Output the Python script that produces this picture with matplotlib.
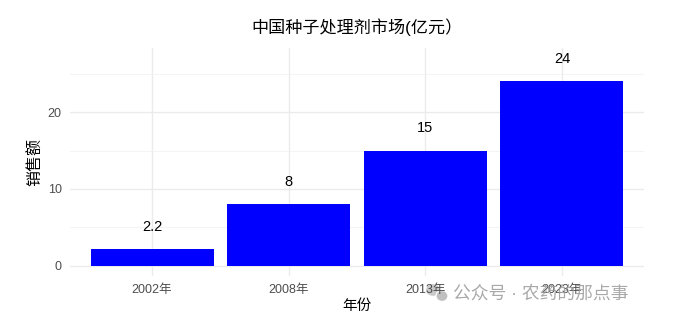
import numpy as np
import matplotlib.pyplot as plt
from matplotlib.patches import Ellipse

plt.rcParams['font.family'] = ['Liberation Sans', 'Noto Sans CJK SC', 'DejaVu Sans']

# 数据
years = ['2002年', '2008年', '2013年', '2023年']
sales = [2.2, 8, 15, 24]
labels = ['2.2', '8', '15', '24']

fig = plt.figure(figsize=(6.8, 3.18), dpi=100)
ax = fig.add_axes([0.103, 0.132, 0.844, 0.717])

x = np.arange(1, len(years) + 1)
ax.bar(x, sales, width=0.9, color='#0000ff', zorder=2)
for xi, v, t in zip(x, sales, labels):
    ax.text(xi, v + 2.9, t, ha='center', va='center', fontsize=10.5, color='black')

ax.set_xlim(0.4, 4.6)
ax.set_ylim(-1.35, 28.35)
ax.set_xticks(x)
ax.set_xticklabels(years)
ax.set_yticks([0, 10, 20])
ax.set_yticks([5, 15, 25], minor=True)

# ggplot theme_minimal 风格
for s in ax.spines.values():
    s.set_visible(False)
ax.grid(True, which='major', color='#ebebeb', linewidth=1.0, zorder=0)
ax.grid(True, which='minor', axis='y', color='#f2f2f2', linewidth=0.6, zorder=0)
ax.tick_params(which='both', length=0, labelsize=9, labelcolor='#4d4d4d', pad=6)

ax.set_title('中国种子处理剂市场(亿元）', fontsize=12.3, pad=11)
ax.set_xlabel('年份', fontsize=10.5, labelpad=2)
ax.set_ylabel('销售额', fontsize=11.5, labelpad=3)

# 水印（图标放在坐标轴下层）
W, H = 680, 318
fig.patches.append(Ellipse((433 / W, 1 - 290 / H), 15 / W, 13 / H, transform=fig.transFigure,
                           facecolor='#c4c4c4', edgecolor='white', linewidth=1, alpha=0.9, zorder=-1))
fig.patches.append(Ellipse((442 / W, 1 - 296 / H), 12 / W, 11 / H, transform=fig.transFigure,
                           facecolor='#b8b8b8', edgecolor='white', linewidth=1, alpha=0.9, zorder=-1))
fig.text(453 / W, 1 - 294 / H, '公众号 · 农药的那点事', fontsize=12.8, color='#9a9a9a',
         alpha=0.85, ha='left', va='center')

fig.savefig('out.png', dpi=100)
